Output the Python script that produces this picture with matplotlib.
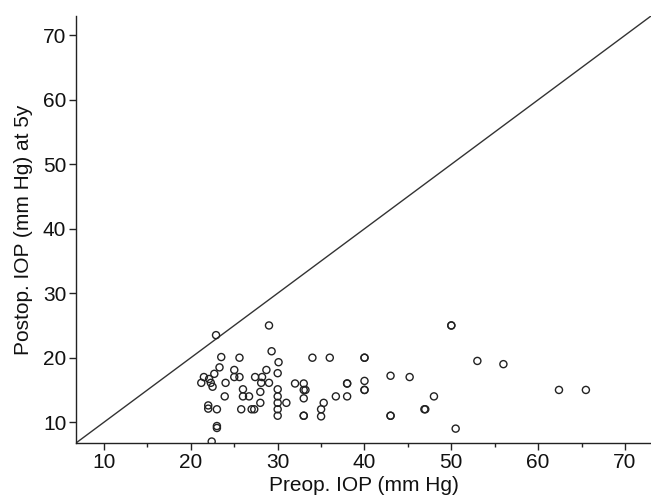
import matplotlib
matplotlib.use('Agg')
import matplotlib.pyplot as plt
from matplotlib.ticker import MultipleLocator

plt.rcParams['font.family'] = ['Liberation Sans', 'DejaVu Sans']

# preop / postop IOP (mm Hg)
preop = [22.9, 29.0, 23.5, 25.6, 29.3, 30.1, 23.3, 25.0, 28.7, 30.0,
         22.7, 21.5, 25.0, 25.6, 27.4, 28.2, 22.1, 21.2, 22.3, 22.5,
         24.0, 28.1, 29.0, 26.0, 28.0, 30.0, 30.0, 30.0, 30.0, 30.0,
         26.0, 26.7, 23.9, 28.0, 22.0, 22.0, 23.0, 25.8, 27.0, 27.3,
         23.0, 23.0, 22.4, 31.0, 34.0, 36.0, 40.0, 40.0, 32.0, 33.0,
         33.0, 33.2, 33.0, 35.3, 35.0, 35.0, 33.0, 33.0, 36.7, 38.0,
         38.0, 38.0, 40.0, 40.0, 40.0, 43.0, 43.0, 43.0, 45.2, 48.0,
         46.9, 47.0, 50.5, 50.0, 50.0, 53.0, 56.0, 62.4, 65.5]
postop = [23.5, 25.0, 20.1, 20.0, 21.0, 19.3, 18.5, 18.1, 18.1, 17.6,
          17.5, 17.0, 17.0, 17.0, 17.0, 17.0, 16.7, 16.1, 16.1, 15.5,
          16.1, 16.1, 16.1, 15.1, 14.7, 15.1, 14.0, 13.0, 12.0, 11.0,
          14.0, 14.0, 14.0, 13.0, 12.6, 12.1, 12.0, 12.0, 12.0, 12.0,
          9.4, 9.1, 7.0, 13.0, 20.0, 20.0, 20.0, 20.0, 16.0, 16.0,
          15.0, 15.0, 13.7, 13.0, 12.0, 10.9, 11.0, 11.0, 14.0, 16.0,
          16.0, 14.0, 16.4, 15.0, 15.0, 17.2, 11.0, 11.0, 17.0, 14.0,
          12.0, 12.0, 9.0, 25.0, 25.0, 19.5, 19.0, 15.0, 15.0]

lo, hi = 6.77, 73.0

fig = plt.figure(figsize=(6.51, 4.98), dpi=100)
ax = fig.add_axes([76 / 651, 55 / 498, 1 - 76 / 651, (443 - 16) / 498])

ax.plot([lo, hi], [lo, hi], color='#333333', lw=1.0, zorder=1)
ax.scatter(preop, postop, s=26, facecolors='none', edgecolors='#222222',
           linewidths=1.0, zorder=2)

ax.set_xlim(lo, hi)
ax.set_ylim(lo, hi)
ax.xaxis.set_minor_locator(MultipleLocator(5))
ax.set_xticks([10, 20, 30, 40, 50, 60, 70])
ax.set_yticks([10, 20, 30, 40, 50, 60, 70])

for side in ['top', 'right']:
    ax.spines[side].set_visible(False)
for side in ['left', 'bottom']:
    ax.spines[side].set_linewidth(1.0)
    ax.spines[side].set_color('#222222')

ax.tick_params(which='major', length=5, width=1, labelsize=15, pad=2,
               color='#222222', labelcolor='#111111')
ax.tick_params(axis='x', which='minor', length=3, width=1, color='#222222')

ax.set_xlabel('Preop. IOP (mm Hg)', fontsize=15, labelpad=3, color='#111111')
ax.set_ylabel('Postop. IOP (mm Hg) at 5y', fontsize=15, labelpad=7, color='#111111')

fig.savefig('out.png', dpi=100)
